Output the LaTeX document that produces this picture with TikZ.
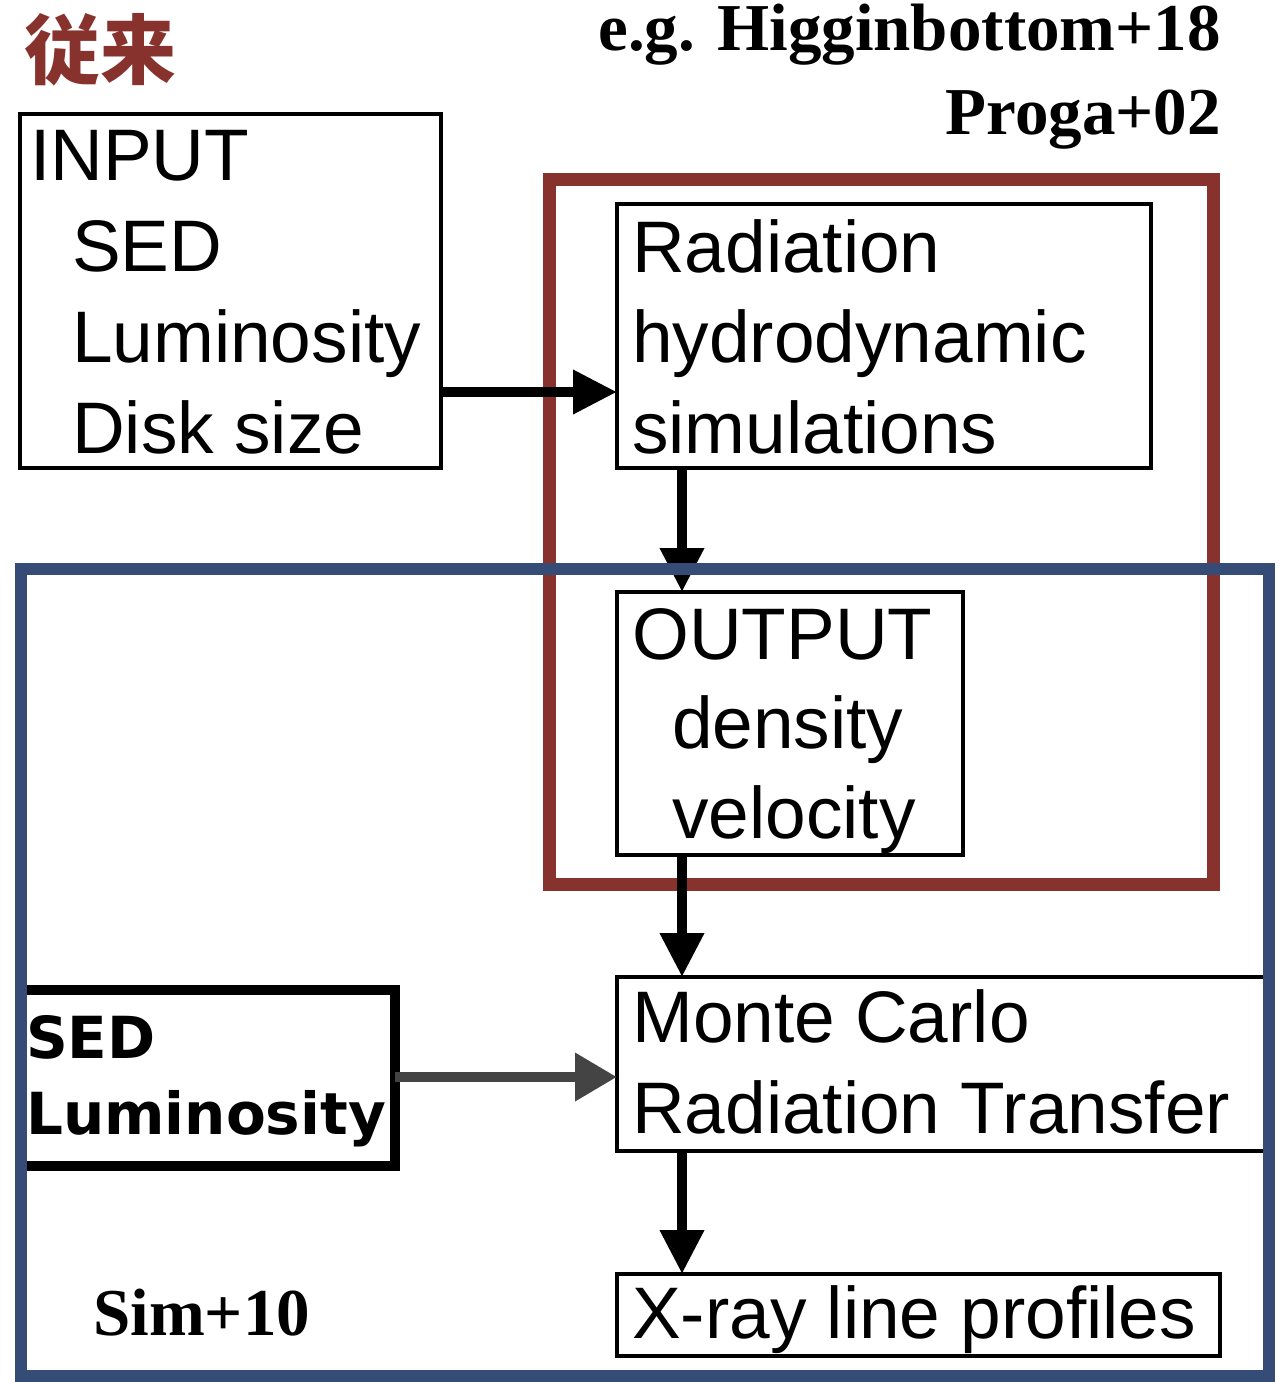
\documentclass[tikz,border=0pt]{standalone}
\usepackage{fontspec}
\setmainfont{Liberation Sans}
\newfontfamily\refserif{Liberation Serif}
\newfontfamily\cjk{Noto Sans CJK JP}
\newfontfamily\sedfont{DejaVu Sans}
\usetikzlibrary{arrows.meta}
\definecolor{frameRed}{HTML}{88322D}
\definecolor{frameBlue}{HTML}{344C76}
\definecolor{arrGray}{HTML}{444444}
\begin{document}
\begin{tikzpicture}[x=1pt,y=-1pt,
  box/.style={draw=black,line width=4pt,anchor=north west,inner sep=0pt,outer sep=0pt},
  lbl/.style={anchor=base west,inner sep=0pt,font=\fontsize{73}{88}\selectfont},
  sedlbl/.style={anchor=base west,inner sep=0pt,font=\fontsize{58}{70}\sedfont\bfseries},
  refl/.style={anchor=base east,inner sep=0pt,font=\fontsize{67}{80}\refserif\bfseries},
  arr/.style={line width=10pt,-{Triangle[length=44pt,width=42pt]}},
  frame/.style={line width=13pt}]
\fill[white] (0,0) rectangle (1282,1382);
\useasboundingbox (0,0) rectangle (1282,1382);

% title and references
\node[anchor=west,inner sep=0pt,text=frameRed,font=\fontsize{76}{90}\cjk\bfseries] (title) at (24,50) {従来};
\node[refl] (ref1) at (1221,50) {e.g. Higginbottom+18};
\node[refl] (ref2) at (1221,134) {Proga+02};

% red frame (below arrows)
\draw[frame,draw=frameRed] (549,179) rectangle (1213,884);

% boxes
\node[box,minimum width=421pt,minimum height=354pt] (inp) at (20,114) {};
\node[box,minimum width=534pt,minimum height=264pt] (rad) at (617,204) {};
\node[box,minimum width=346pt,minimum height=263pt] (out) at (617,592) {};
\node[box,minimum width=650pt,minimum height=174pt] (mc) at (617,977) {};
\node[box,minimum width=603pt,minimum height=82pt] (xr) at (617,1274) {};
\node[box,line width=10pt,minimum width=375pt,minimum height=176pt] (sed) at (20,990) {};

% texts
\node[lbl] (t1) at (30,180) {INPUT};
\node[lbl] (t2) at (72,271) {SED};
\node[lbl] (t3) at (72,362) {Luminosity};
\node[lbl] (t4) at (72,453) {Disk size};
\node[lbl] (r1) at (632,272) {Radiation};
\node[lbl] (r2) at (632,362) {hydrodynamic};
\node[lbl] (r3) at (632,453) {simulations};
\node[lbl] (o1) at (632,659) {OUTPUT};
\node[lbl] (o2) at (672,748) {density};
\node[lbl] (o3) at (672,838) {velocity};
\node[lbl] (m1) at (632,1042) {Monte Carlo};
\node[lbl] (m2) at (632,1133) {Radiation Transfer};
\node[lbl] (x1) at (632,1338) {X-ray line profiles};
\node[sedlbl] (s1) at (26,1058) {SED};
\node[sedlbl] (s2) at (26,1134) {Luminosity};
\node[refl,anchor=base west] (sim) at (93,1335) {Sim+10};

% arrows
\draw[arr] (inp.east |- 0,392) -- (rad.west |- 0,392);
\draw[arr] (rad.south -| 682,0) -- (out.north -| 682,0);
\draw[arr] (out.south -| 682,0) -- (mc.north -| 682,0);
\draw[arr] (mc.south -| 682,0) -- (xr.north -| 682,0);
\draw[arr,draw=arrGray,-{Triangle[length=42pt,width=46pt]}] (sed.east |- 0,1077) -- (mc.west |- 0,1077);

% blue frame (on top)
\draw[line width=12pt,draw=frameBlue] (21,569) rectangle (1269,1376);
\end{tikzpicture}
\end{document}
